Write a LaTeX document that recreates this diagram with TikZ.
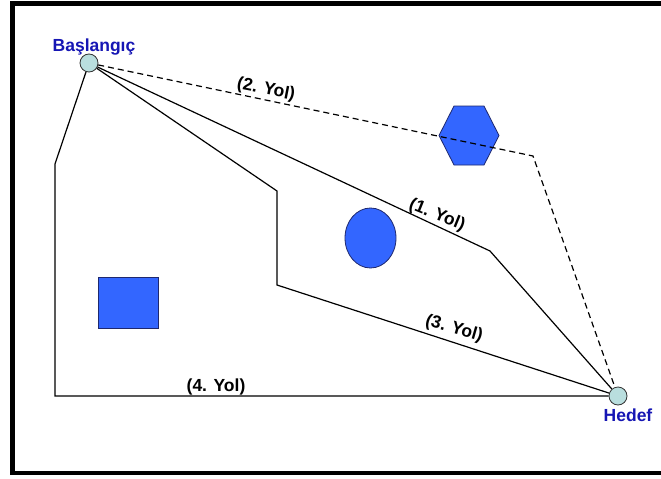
\documentclass[tikz,border=0pt]{standalone}
\usepackage{fontspec}
\setmainfont{Liberation Sans}
\usetikzlibrary{shapes.geometric}
\definecolor{obst}{RGB}{51,102,255}
\definecolor{obstline}{RGB}{30,40,110}
\definecolor{endfill}{RGB}{185,222,222}
\definecolor{endtxt}{RGB}{22,22,180}
\tikzset{
  endpt/.style={circle, draw=black!80, fill=endfill, line width=0.8pt, minimum size=18pt, inner sep=0pt},
  endlbl/.style={text=endtxt, font=\fontsize{17.5}{19}\selectfont\bfseries, inner sep=0pt},
  pathline/.style={line width=1.2pt, black},
  pathlbl/.style={font=\fontsize{17.5}{19}\selectfont\bfseries, inner sep=0pt},
  obstacle/.style={draw=obstline, fill=obst, line width=0.8pt, inner sep=0pt},
  frameline/.style={line width=4.8pt, black}
}
\begin{document}
\begin{tikzpicture}[x=1pt,y=-1pt]
\useasboundingbox (0,0) rectangle (661,479);
\fill[white] (0,0) rectangle (661,479);
% frame
\draw[frameline] (665,3.3) -- (12.5,3.3) -- (12.5,473) -- (665,473);
% obstacles
\node[obstacle, rectangle, minimum width=60pt, minimum height=51pt] (sq) at (128,302.5) {};
\node[obstacle, ellipse, minimum width=51pt, minimum height=60pt] (el) at (370.5,238) {};
\draw[obstacle] (439,135.5) -- (454,106) -- (484,106) -- (499,135.5) -- (484,165) -- (454,165) -- cycle;
% endpoints
\node[endpt] (s) at (89,63) {};
\node[endpt] (h) at (618,396) {};
\node[endlbl] (slbl) at (94,47) {Başlangıç};
\node[endlbl] (hlbl) at (628,415) {Hedef};
% bends
\coordinate (p4a) at (55,164);
\coordinate (p4b) at (55,396);
\coordinate (p3a) at (277,191);
\coordinate (p3b) at (277,285);
\coordinate (p1a) at (490,251);
\coordinate (p2a) at (533,156);
% paths
\draw[pathline] (s) -- (p4a) -- (p4b) -- (h);
\draw[pathline] (s) -- (p3a) -- (p3b) -- (h);
\draw[pathline] (s) -- (p1a) -- (h);
\draw[pathline, dashed, dash pattern=on 6pt off 4pt] (s) -- (p2a) -- (h);
% labels
\node[pathlbl, rotate=-11] (l2) at (266,90) {(2. Yol)};
\node[pathlbl, rotate=-22] (l1) at (437,215) {(1. Yol)};
\node[pathlbl, rotate=-16] (l3) at (454,329) {(3. Yol)};
\node[pathlbl] (l4) at (216,387) {(4. Yol)};
\end{tikzpicture}
\end{document}
